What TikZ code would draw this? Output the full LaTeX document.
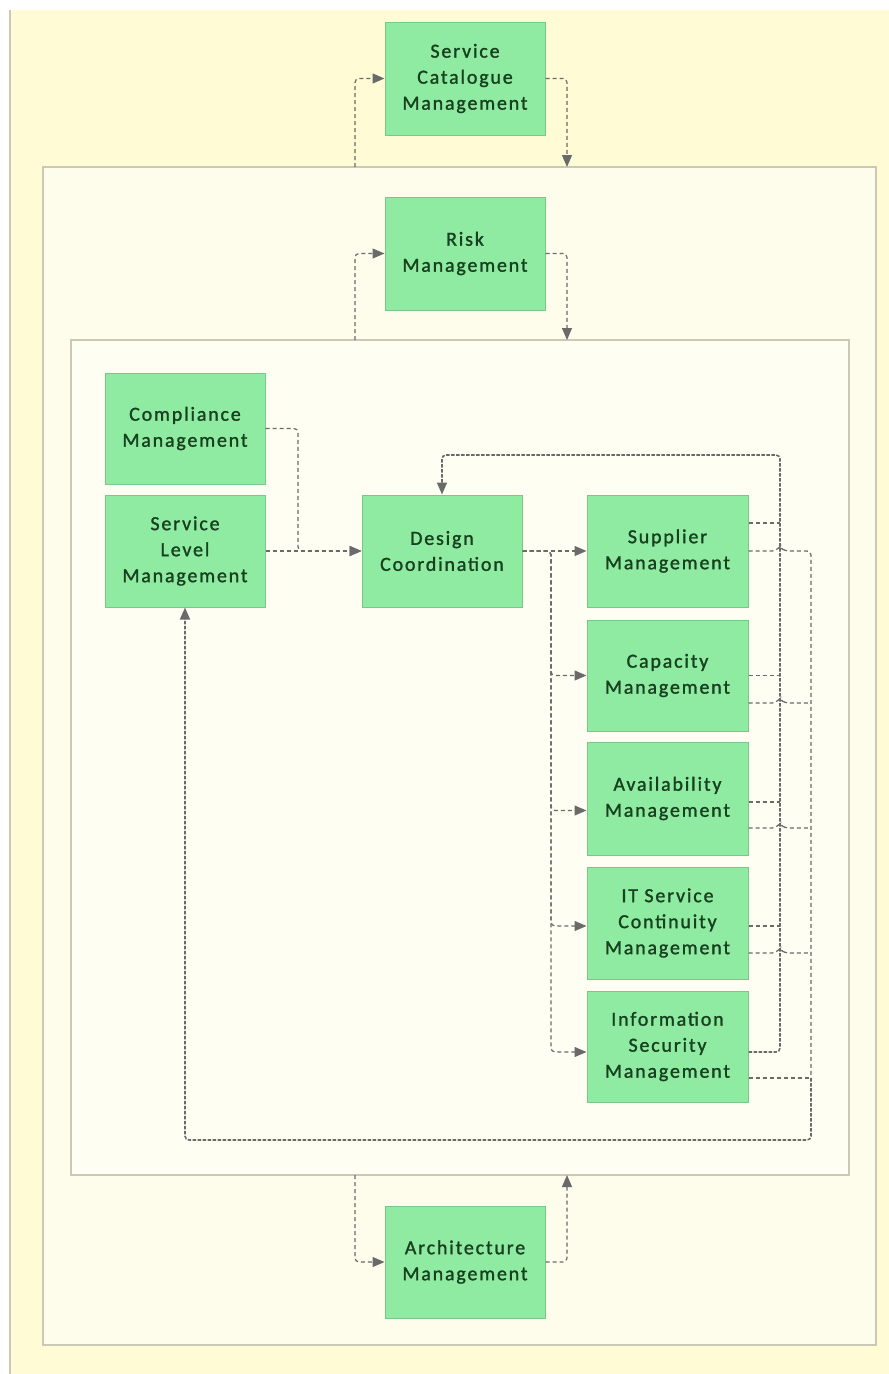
\documentclass[tikz,border=0pt]{standalone}
\usepackage{fontspec}
\setmainfont{Carlito}[LetterSpace=9, FakeBold=1.3]
\usetikzlibrary{arrows.meta}
\definecolor{bgyellow}{HTML}{FFFBD4}
\definecolor{outerfill}{HTML}{FEFDEB}
\definecolor{innerfill}{HTML}{FEFEF3}
\definecolor{frame}{HTML}{C9C9B5}
\definecolor{boxfill}{HTML}{90EBA2}
\definecolor{boxline}{HTML}{78C88A}
\definecolor{boxtext}{HTML}{17401F}
\definecolor{link}{HTML}{6A6A6A}
\tikzset{
  proc/.style={draw=boxline, fill=boxfill, line width=1pt,
    minimum width=160pt, minimum height=112pt, align=center,
    text=boxtext, font=\fontsize{20}{26}\selectfont, inner sep=0pt},
  flow/.style={draw=link, line width=1.2pt, dash pattern=on 4pt off 3pt,
    rounded corners=4pt},
  trunk/.style={draw=link, line width=1.6pt, dash pattern=on 3.5pt off 1.5pt,
    rounded corners=4pt},
  tip/.style={-{Triangle[length=12pt,width=10pt]}},
  panel/.style={draw=frame, line width=1.2pt},
}
\begin{document}
\begin{tikzpicture}[x=1pt,y=-1pt]
\useasboundingbox (0,0) rectangle (889,1374);
% page background and nested frames
\fill[white] (0,0) rectangle (889,1374);
\fill[bgyellow] (10,10) rectangle (889,1374);
\draw[frame, line width=1.2pt] (10,10) -- (10,1374);
\draw[panel, fill=outerfill] (43,167) rectangle (876,1345);
\draw[panel, fill=innerfill] (71,340) rectangle (849,1175);

% processes
\node[proc, minimum height=113pt] (scm)   at (465,78.5)   {Service\\Catalogue\\Management};
\node[proc, minimum height=113pt] (risk)  at (465,253.5)  {Risk\\Management};
\node[proc, minimum height=111pt] (comp)  at (185,428.5)  {Compliance\\Management};
\node[proc]                       (slm)   at (185,551)    {Service\\Level\\Management};
\node[proc]                       (dc)    at (442,551)    {Design\\Coordination};
\node[proc, minimum width=161pt]  (sup)   at (667.5,551)  {Supplier\\Management};
\node[proc, minimum width=161pt, minimum height=111pt] (cap) at (667.5,675.5) {Capacity\\Management};
\node[proc, minimum width=161pt, minimum height=113pt] (avail) at (667.5,798.5) {Availability\\Management};
\node[proc, minimum width=161pt]  (itscm) at (667.5,923)  {IT Service\\Continuity\\Management};
\node[proc, minimum width=161pt, minimum height=111pt] (ism) at (667.5,1046.5) {Information\\Security\\Management};
\node[proc]                       (arch)  at (465,1262)   {Architecture\\Management};

% ports on the frames
\coordinate (outerTopL) at (355,167);
\coordinate (outerTopR) at (567,167);
\coordinate (innerTopL) at (355,340);
\coordinate (innerTopR) at (567,340);
\coordinate (innerBotL) at (355,1175);
\coordinate (innerBotR) at (567,1175);

% loops around the frames
\draw[flow,tip] (outerTopL) |- (scm.west);
\draw[flow,tip] (scm.east) -| (outerTopR);
\draw[flow,tip] (innerTopL) |- (risk.west);
\draw[flow,tip] (risk.east) -| (innerTopR);
\draw[flow,tip] (innerBotL) |- (arch.west);
\draw[flow,tip] (arch.east) -| (innerBotR);

% inputs to design coordination
\draw[flow,tip] (comp.east) -| (298,551) -- (dc.west);
\draw[flow,tip] (slm.east) -- (dc.west);

% design coordination fan-out
\draw[flow,tip] (dc.east) -- (sup.west);
\draw[flow,tip] (dc.east) -- (551,551) |- (cap.west);
\draw[flow,tip] (dc.east) -- (551,551) |- ([yshift=-12pt]avail.west);
\draw[flow,tip] (dc.east) -- (551,551) |- ([yshift=-3pt]itscm.west);
\draw[flow,tip] (dc.east) -- (551,551) |- ([yshift=-5.5pt]ism.west);

% feedback to design coordination: trunk from the last box, branches join it
\coordinate (jSupA)   at (780,523);
\coordinate (jCapA)   at (780,675.5);
\coordinate (jAvailA) at (780,802);
\coordinate (jItA)    at (780,926);
\draw[trunk,tip] ([yshift=-5.5pt]ism.east) -| (780,455) -| (dc.north);
\draw[flow] ([yshift=28pt]sup.east) -- (jSupA);
\draw[flow] (cap.east) -- (jCapA);
\draw[flow] ([yshift=-3.5pt]avail.east) -- (jAvailA);
\draw[flow] ([yshift=-3pt]itscm.east) -- (jItA);

% feedback to service level management: branches gather on x=811,
% the trunk runs from there back round to service level
\coordinate (jCapB)   at (811,703);
\coordinate (jAvailB) at (811,828);
\coordinate (jItB)    at (811,953);
\coordinate (jIsmB)   at (811,1078);
\draw[trunk,tip] (jIsmB) -- (811,1140) -| (slm.south);
\draw[flow] ([yshift=-31.5pt]ism.east) -- (jIsmB);
\draw[flow] (sup.east) -- (776,551) -- (780,546) -- (784,551) -| (jIsmB);
\draw[flow] ([yshift=-27.5pt]cap.east) -- (776,703) -- (780,698) -- (784,703) -- (jCapB);
\draw[flow] ([yshift=-29.5pt]avail.east) -- (776,828) -- (780,823) -- (784,828) -- (jAvailB);
\draw[flow] ([yshift=-30pt]itscm.east) -- (776,953) -- (780,948) -- (784,953) -- (jItB);
\end{tikzpicture}
\end{document}
